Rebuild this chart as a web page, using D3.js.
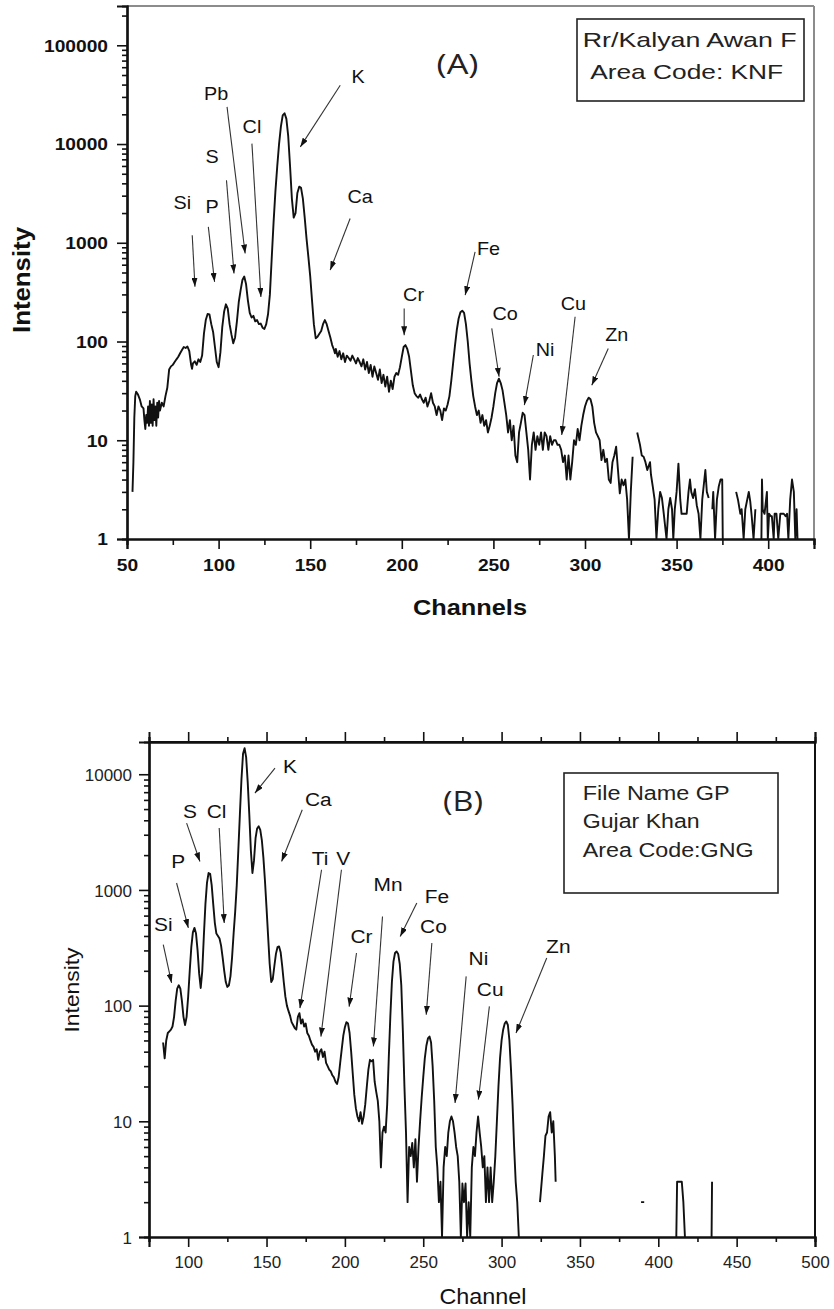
<!DOCTYPE html>
<html><head><meta charset="utf-8">
<script src="https://cdn.jsdelivr.net/npm/d3@7"></script>
<style>body{margin:0;background:#fff}svg{display:block}</style>
</head><body><svg id="c" width="834" height="1309"></svg>
<script>
// ---------- DATA ----------
// Panel A spectrum: [channel, intensity]; null = gap (no counts)
const spectrumA = [
[53,3],[53.5,6],[54,17],[54.5,28],[55,31],[56,29],[57,26],[58,22],[59,21],[59.5,16],[60,13],
[60.5,18],[61,15],[61.5,22],[62,14],[62.5,25],[63,15],[63.5,23],[64,14],[64.5,26],[65,16],[65.5,22],
[66,14],[66.5,24],[67,17],[67.5,25],[68,20],[69,24],[70,22],[71,28],[72,34],[73,52],[74,56],[75,58],
[76,62],[77,66],[78,70],[79,76],[80,82],[81,88],[82,86],[83,89],[84,80],[85,58],[85.5,53],[86,60],
[87,63],[88,58],[89,66],[90,62],[91,72],[92,120],[93,165],[94,190],[95,188],[96,150],[97,125],[98,88],
[99,62],[100,55],[101,78],[102,140],[103,200],[104,238],[105,215],[106,150],[107,118],[108,96],[109,110],
[110,160],[111,250],[112,330],[113,420],[114,455],[115,380],[116,260],[117,195],[118,175],[119,182],
[120,160],[121,165],[122,150],[123,152],[124,138],[125,134],[126,150],[127,190],[128,300],[129,700],
[130,1600],[131,3300],[132,5900],[133,10000],[134,15000],[135,19500],[136,20500],[137,18000],[138,12000],
[139,6000],[140,2800],[141,1800],[142,2000],[143,3200],[144,3700],[145,3600],[146,2800],[147,1800],
[148,1100],[149,720],[150,460],[151,260],[152,150],[153,108],[154,112],[155,120],[156,128],[157,150],
[158,165],[159,150],[160,128],[161,110],[162,92],[163,82],[163.5,76],[164,84],[165,70],[166,80],[167,66],
[168,76],[169,62],[170,72],[171,68],[172,64],[173,72],[174,66],[175,60],[176,68],[177,62],[178,56],
[179,66],[180,52],[181,62],[182,48],[183,58],[184,44],[185,56],[186,48],[187,41],[188,52],[189,38],
[190,46],[191,35],[192,44],[193,31],[194,40],[195,33],[196,44],[197,48],[198,46],[199,55],[200,70],
[201,88],[202,92],[203,84],[204,70],[205,50],[206,36],[207,30],[208,28],[209,27],[210,29],[211,26],
[212,24],[213,27],[214,22],[215,25],[216,30],[217,24],[218,22],[219,18],[220,22],[221,20],[222,16],
[223,21],[224,20],[225,23],[226,28],[227,40],[228,60],[229,90],[230,130],[231,170],[232,198],[233,205],
[234,195],[235,150],[236,100],[237,60],[238,40],[239,28],[240,22],[241,18],[242,20],[243,15],[244,18],
[245,14],[246,16],[247,12],[248,14],[249,17],[250,22],[251,30],[252,38],[253,42],[254,38],[255,32],
[256,24],[257,18],[258,12],[259,16],[260,10],[261,14],[262,7],[263,6],[264,12],[265,15],[266,19],
[267,18],[268,12],[269,8],[270,4],[271,9],[272,12],[273,8],[274,11],[275,9],[276,12],[277,8],[278,12],
[279,11],[280,8],[281,11],[282,9],[283,10],[284,10],[285,9],[286,9],[287,8],[288,6],[289,7],[290,4],
[291,7],[292,4],[293,6],[294,10],[295,9],[296,13],[297,10],[298,14],[299,18],[300,22],[301,25],[302,27],
[303,26],[304,22],[305,15],[306,12],[307,11],[308,10],[309,6.3],[310,8],[311,6],[312,6.5],[313,4],
[314,3.7],[315,6],[316,7],[317,8.6],[318,5],[319,2.9],[320,4],[321,3.5],[322,4],[323,2.5],[324,1],
[325,3],[326,6.8],[327,null],[328.5,12],[330,9],[331,7],[332,6.8],[333,6],[334,5],[335.5,6],[336,4.5],
[337,3.4],[338,2.5],[339,1],[340,2],[341,3],[342,2.6],[343,1.8],[344.5,1],[345.5,2],[346.5,2.6],[347.5,2],
[348.2,1],[349,2],[350,3],[351,5.8],[352,2.5],[352.7,1.8],[355.5,1.8],[356.5,3],[357.3,4],[358,3],
[359,2.6],[360,3.2],[361,2.2],[362,1.8],[363,1],[364,2.5],[365.7,5],[366.5,3],[367.5,2.6],[368.5,null],
[369.5,2],[370,3],[371,1],[372,2.5],[373,3.4],[374,4],[374.9,4],[375.2,1],[376,null],[382.5,3],
[383.5,2.5],[384.8,1.8],[385.5,2],[386.6,1],[387.5,2],[389.4,3],[390.2,2.4],[391,1.7],[392,1],[393,2],
[394,null],[396.3,1],[396.6,4],[397,2],[398,1.8],[399.3,3],[399.8,1],[400.5,1.8],[401.5,1.7],[402,1.7],
[403,1],[403.5,1.8],[404.5,1.8],[405.5,1],[406.6,1.8],[407.5,1.8],[408.5,1.8],[409.5,1.7],[410.3,1.8],
[411,1],[412,2.5],[413,4],[414,3],[414.8,1],[415.5,2],[416,1]
];

// Panel B spectrum
const spectrumB = [
[84,48],[85,35],[86,50],[87,58],[88,60],[89,62],[90,66],[91,80],[92,110],[93,140],[94,150],[95,140],
[96,110],[97,80],[98,68],[99,80],[100,120],[101,200],[102,320],[103,430],[104,470],[105,420],[106,300],
[107,190],[108,142],[109,200],[110,400],[111,750],[112,1150],[113,1400],[114,1380],[115,1100],[116,750],
[117,520],[118,420],[119,400],[120,380],[121,330],[122,260],[123,200],[124,160],[125,145],[126,150],
[127,180],[128,260],[129,420],[130,650],[131,1100],[132,2200],[133,4500],[134,9000],[135,15000],
[136,16800],[137,14000],[138,8500],[139,4500],[140,2200],[141,1400],[142,1800],[143,2800],[144,3400],
[145,3550],[146,3300],[147,2700],[148,1900],[149,1200],[150,700],[151,400],[152,230],[153,160],[154,170],
[155,220],[156,280],[157,320],[158,325],[159,290],[160,220],[161,160],[162,120],[163,100],[164,90],
[165,82],[166,72],[167,68],[168,64],[169,62],[170,80],[171,86],[172,70],[173,76],[174,66],[175,70],
[176,58],[177,55],[178,50],[179,46],[180,44],[181,40],[182,42],[183,34],[184,40],[185,42],[186,36],
[187,40],[188,32],[189,30],[190,28],[191,27],[192,25],[193,24],[194,22],[195,21],[196,24],[197,32],
[198,42],[199,55],[200,65],[201,72],[202,70],[203,58],[204,40],[205,26],[206,17],[207,13],[208,11],
[209,10],[210,12],[211,9.5],[212,11],[213,14],[214,20],[215,28],[216,34],[217,33],[218,34],[219,22],
[220,18],[221,15],[222,10],[223,4],[224,8],[225,9],[226,8],[227,14],[228,35],[229,80],[230,160],
[231,240],[232,285],[233,294],[234,280],[235,230],[236,150],[237,60],[238,20],[239,8],[240,2],[241,6],
[242,5],[243,6.5],[244,4],[245,7],[246,3],[247,6],[248,10],[249,16],[250,24],[251,35],[252,45],[253,52],
[254,54],[255,48],[256,30],[257,15],[258,6],[259,4],[260,2],[261,3],[262,1],[263,4],[264,6],[265,5],
[266,8],[267,10],[268,11],[269,10],[270,8],[271,6],[272,5],[273,3],[274,1],[275,2.9],[276,2],[277,2.9],
[278,1],[279,2],[280,1],[281,4],[282,6],[283,5],[284,8],[285,11],[286,8],[287,6],[288,4],[289,5],
[290,2],[291,4],[292,2],[293,4],[294,2],[295,3],[296,5],[297,10],[298,20],[299,35],[300,50],[301,62],
[302,70],[303,73],[304,68],[305,50],[306,28],[307,14],[308,6],[309,3],[310,2],[311,1],[312,null],
[324.5,2],[326,3.5],[327,5],[328,7.5],[329,8],[330,11],[331,12],[332,8],[333,10],[334,5],[334.5,3],
[335,null],[389,2],[391,2],[392,null],[411.5,1],[412,3],[415,3],[416,2],[417,1],[418,null],[434,1],[434.3,3]
];

// Annotations: [label, textChannel, textIntensity, arrowFromChannel, arrowFromIntensity, arrowToChannel, arrowToIntensity]
const annotationsA = [
["Si",80.2,2510,85.6,1194,87.1,358],
["P",96.5,2290,94.4,1449,97.8,402],
["S",96.5,7350,104.3,4300,108.4,489],
["Pb",98.7,31900,104.6,23750,114.5,779],
["Cl",118.2,14900,118.2,10100,123.1,283],
["K",176.2,47800,166.4,39400,144.6,9350],
["Ca",177.3,2915,171.8,1762,160.9,528],
["Cr",206.4,295,201.3,216,201.3,116],
["Fe",247.3,875,240,809,234.6,295],
["Co",256.4,192,249.1,136,253.1,44],
["Ni",278.2,82,271.8,73,266.9,22.7],
["Cu",293.6,243,294.6,178,287.3,11.3],
["Zn",317.3,116,312.7,85,303.7,36]
];
const annotationsB = [
["Si",84.1,500,84.1,337,89.4,157],
["P",93.7,1763,92.6,1148,100.1,469],
["S",101.1,4770,99,3785,107.5,1763],
["Cl",118.1,4770,119.8,3430,123,517],
["K",164.9,11700,155.4,11300,142.6,6880],
["Ca",183,6020,172.8,4930,159.6,1763],
["Ti",184.1,1888,185.1,1495,171.3,95],
["V",198.9,1888,197.8,1495,184.7,54],
["Cr",210.6,396,207.4,285,202.7,98],
["Mn",227.6,1109,224,590,218.2,44.4],
["Fe",258.7,879,245.9,771,235.3,396],
["Co",256.5,484,255.5,348,251.9,83.4],
["Ni",285.2,258,277.4,179,270.3,14.4],
["Cu",292.7,137,292.2,98.4,285.2,15.4],
["Zn",336.2,325,328.8,258,309.2,58]
];

const xTicksA = [50,100,150,200,250,300,350,400];
const xMinorA = [75,125,175,225,275,325,375,425];
const yTicksA = [1,10,100,1000,10000,100000];
const xTicksB = [100,150,200,250,300,350,400,450,500];
const xMinorB = [75,125,175,225,275,325,375,425,475];
const yTicksB = [1,10,100,1000,10000];
const legendA = ["Rr/Kalyan Awan F","Area Code: KNF"];
const legendB = ["File Name GP","Gujar Khan","Area Code:GNG"];

// ---------- DRAW ----------
const svg = d3.select("#c");
svg.append("rect").attr("width",834).attr("height",1309).attr("fill","#fff");
const defs = svg.append("defs");
defs.append("marker").attr("id","arr").attr("viewBox","0 0 10 10").attr("refX",10).attr("refY",5)
  .attr("markerWidth",9).attr("markerHeight",6).attr("markerUnits","userSpaceOnUse")
  .attr("preserveAspectRatio","none").attr("orient","auto")
  .append("path").attr("d","M0,0L10,5L0,10z").attr("fill","#111");

function minorLog(domain){
  const out=[];
  for(let d=1; d<=domain[1]; d*=10) for(let k=2;k<=9;k++){ if(d*k<=domain[1]) out.push(d*k); }
  return out;
}

function styleAxis(a, w){
  a.selectAll(".domain").attr("stroke","#111").attr("stroke-width",w);
  a.selectAll(".tick line").attr("stroke","#111").attr("stroke-width",1.6);
}

function panel(o){
  const x = d3.scaleLinear().domain(o.xDomain).range([o.left,o.right]);
  const y = d3.scaleLog().domain(o.yDomain).range([o.bottom,o.top]);
  const g = svg.append("g");
  const font = "Arial, 'Liberation Sans', sans-serif";

  // frame lines (top/right)
  g.append("line").attr("x1",o.left).attr("x2",o.right).attr("y1",o.top).attr("y2",o.top)
    .attr("stroke",o.frameColor).attr("stroke-width",2);
  g.append("line").attr("x1",o.right).attr("x2",o.right).attr("y1",o.top).attr("y2",o.bottom)
    .attr("stroke",o.frameColor).attr("stroke-width",2);

  // spectrum
  const clipId = "clip"+o.id;
  defs.append("clipPath").attr("id",clipId).append("rect")
    .attr("x",o.left).attr("y",o.top).attr("width",o.right-o.left).attr("height",o.bottom-o.top+1);
  const line = d3.line().defined(d=>d[1]!=null).x(d=>x(d[0])).y(d=>y(d[1]));
  g.append("path").datum(o.data).attr("d",line).attr("fill","none").attr("stroke","#111")
    .attr("stroke-width",1.9).attr("stroke-linejoin","round").attr("clip-path",`url(#${clipId})`);

  // axes: minor and major in separate groups
  const gxm = g.append("g").attr("transform",`translate(0,${o.bottom})`)
    .call(d3.axisBottom(x).tickValues(o.xMinor).tickSize(o.minorX).tickFormat(""));
  const gx = g.append("g").attr("transform",`translate(0,${o.bottom})`)
    .call(d3.axisBottom(x).tickValues(o.xTicks).tickSize(10).tickFormat(d3.format("d")));
  if(o.topTicks){
    const gtm = g.append("g").attr("transform",`translate(0,${o.top})`)
      .call(d3.axisTop(x).tickValues(o.xMinor).tickSize(5).tickFormat(""));
    const gt = g.append("g").attr("transform",`translate(0,${o.top})`)
      .call(d3.axisTop(x).tickValues(o.xTicks).tickSize(10).tickFormat(""));
    styleAxis(gtm,2); styleAxis(gt,2);
  }
  const gym = g.append("g").attr("transform",`translate(${o.left},0)`)
    .call(d3.axisLeft(y).tickValues(minorLog(o.yDomain)).tickSize(5).tickFormat(""));
  const gy = g.append("g").attr("transform",`translate(${o.left},0)`)
    .call(d3.axisLeft(y).tickValues(o.yTicks).tickSize(10).tickFormat(d3.format("d")));
  [gxm,gx,gym,gy].forEach(a=>styleAxis(a,2.2));
  gx.selectAll("text").attr("y",null).attr("dy",null)
    .attr("transform",`translate(0,${o.xLabOff}) scale(${o.tickSX},1)`)
    .style("font",`${o.tickWeight} ${o.tickSize}px ${font}`).attr("fill",o.tickColor);
  gy.selectAll("text").attr("x",null).attr("dy","0.36em")
    .attr("transform",`translate(${-o.yLabOff},0) scale(${o.tickSX},1)`)
    .style("font",`${o.tickWeight} ${o.tickSize}px ${font}`).attr("fill",o.tickColor);

  // axis titles
  g.append("text").attr("text-anchor","middle")
    .attr("transform",`translate(${o.yTitle[0]},${o.yTitle[1]}) rotate(-90)`)
    .attr("textLength",o.yTitle[2]).attr("lengthAdjust","spacingAndGlyphs")
    .style("font",`${o.titleWeight} ${o.yTitle[3]}px ${font}`).attr("fill","#111").text("Intensity");
  g.append("text").attr("text-anchor","middle").attr("x",o.xTitle[0]).attr("y",o.xTitle[1])
    .attr("textLength",o.xTitle[2]).attr("lengthAdjust","spacingAndGlyphs")
    .style("font",`${o.titleWeight} ${o.xTitle[3]}px ${font}`).attr("fill","#111").text(o.xTitleText);

  // annotations
  o.ann.forEach(a=>{
    g.append("line").attr("x1",x(a[3])).attr("y1",y(a[4])).attr("x2",x(a[5])).attr("y2",y(a[6]))
      .attr("stroke","#333").attr("stroke-width",1.1).attr("marker-end","url(#arr)");
    g.append("text").attr("text-anchor","middle").attr("dominant-baseline","central")
      .attr("transform",`translate(${x(a[1])},${y(a[2])}) scale(1.1,1)`)
      .style("font",`${o.annSize}px ${font}`).attr("fill","#111").text(a[0]);
  });

  // panel letter
  g.append("text").attr("text-anchor","middle").attr("x",o.letter[1]).attr("y",o.letter[2])
    .attr("textLength",o.letter[3]).attr("lengthAdjust","spacingAndGlyphs")
    .style("font",`${o.letter[4]}px 'Open Sans', sans-serif`).attr("fill","#222").text(o.letter[0]);

  // legend box
  const L = o.legend;
  g.append("rect").attr("x",L.x0).attr("y",L.y0).attr("width",L.x1-L.x0).attr("height",L.y1-L.y0)
    .attr("fill","none").attr("stroke","#222").attr("stroke-width",1.6);
  L.lines.forEach((t,i)=>{
    g.append("text").attr("text-anchor",L.anchor).attr("x",L.tx[i]).attr("y",L.ty[i])
      .attr("textLength",L.tl[i]).attr("lengthAdjust","spacingAndGlyphs")
      .style("font",`${L.size}px ${font}`).attr("fill","#222").text(t);
  });
}

panel({
  id:"A", left:127, right:814, top:6, bottom:539, xDomain:[50,425], yDomain:[1,250000],
  data:spectrumA, xTicks:xTicksA, xMinor:xMinorA, yTicks:yTicksA, minorX:6,
  frameColor:"#8c8c8c", topTicks:false,
  tickSX:1.2, tickSize:16, tickWeight:"bold", tickColor:"#111", xLabOff:32, yLabOff:19,
  titleWeight:"bold", yTitle:[30,280,106,23], xTitle:[470,615,114,22], xTitleText:"Channels",
  ann:annotationsA, annSize:18,
  letter:["(A)",457.5,74,42,27],
  legend:{x0:577,y0:19,x1:804,y1:101,lines:legendA,anchor:"middle",tx:[689.7,686.7],ty:[46.7,79.3],tl:[214,193],size:21}
});

panel({
  id:"B", left:149, right:815, top:742, bottom:1237, xDomain:[75,500], yDomain:[1,19000],
  data:spectrumB, xTicks:xTicksB, xMinor:xMinorB, yTicks:yTicksB, minorX:5,
  frameColor:"#111", topTicks:true,
  tickSX:1.0, tickSize:17, tickWeight:"normal", tickColor:"#222", xLabOff:31, yLabOff:17,
  titleWeight:"normal", yTitle:[79,990,85,20], xTitle:[483,1304,87,22], xTitleText:"Channel",
  ann:annotationsB, annSize:19,
  letter:["(B)",463,811,40,28],
  legend:{x0:564,y0:773,x1:778,y1:893,lines:legendB,anchor:"start",tx:[582.7,582.7,582.7],ty:[800,828.3,856.7],tl:[147,117,171],size:20}
});
</script></body></html>
